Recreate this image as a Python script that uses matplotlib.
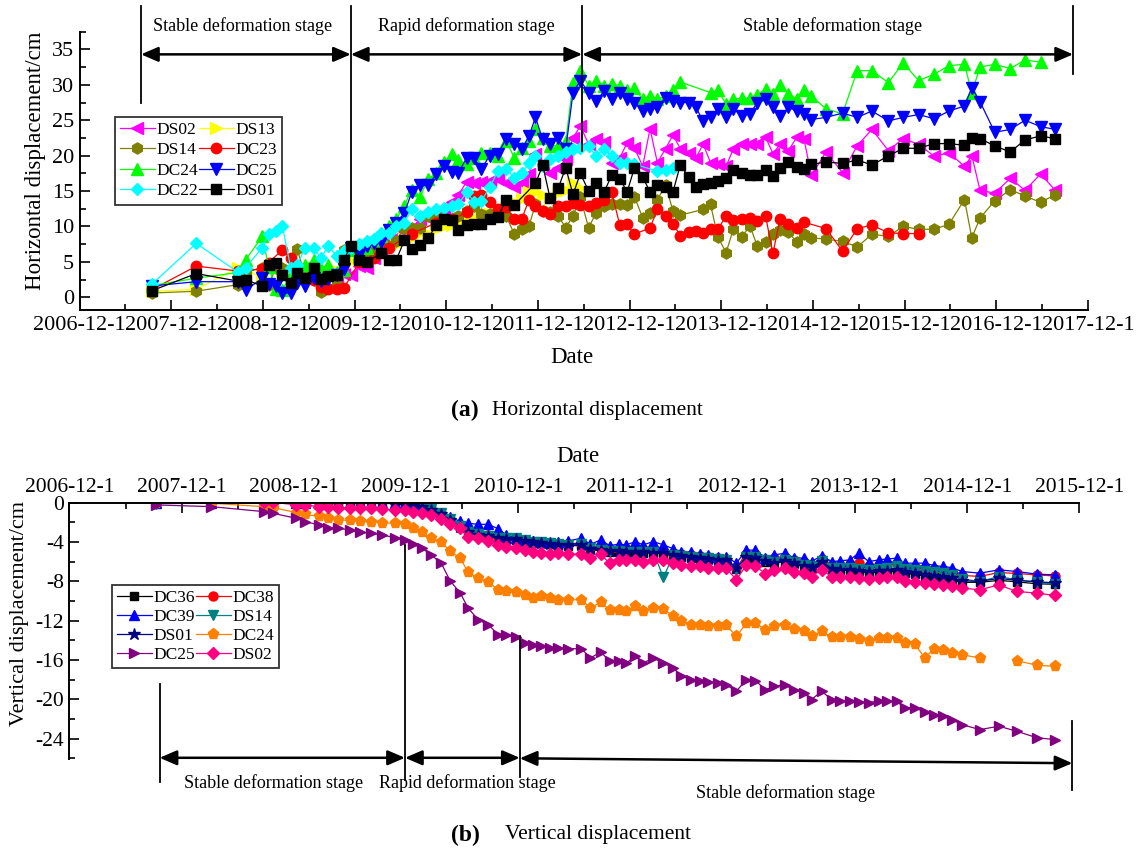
import numpy as np
import matplotlib
matplotlib.use('Agg')
import matplotlib.pyplot as plt
from matplotlib.ticker import MultipleLocator, FixedLocator

N = np.nan

# ---------------- Panel (a): horizontal displacement ----------------
A_DATES = [2007.71, 2008.19, 2008.65, 2008.73, 2008.91, 2008.98, 2009.06, 2009.13, 2009.22, 2009.29,
           2009.38, 2009.47, 2009.55, 2009.63, 2009.72, 2009.80, 2009.88, 2009.97, 2010.05, 2010.13,
           2010.21, 2010.29, 2010.37, 2010.46, 2010.54, 2010.63, 2010.72, 2010.81, 2010.89, 2010.98,
           2011.05, 2011.14, 2011.22, 2011.30, 2011.39, 2011.48, 2011.57, 2011.66, 2011.74, 2011.82,
           2011.89, 2011.97, 2012.05, 2012.14, 2012.22, 2012.30, 2012.38, 2012.47, 2012.55, 2012.64,
           2012.72, 2012.81, 2012.89, 2012.97, 2013.06, 2013.14, 2013.22, 2013.31, 2013.39, 2013.47,
           2013.56, 2013.64, 2013.72, 2013.80, 2013.88, 2013.97, 2014.05, 2014.14, 2014.23, 2014.31,
           2014.40, 2014.48, 2014.56, 2014.65, 2014.74, 2014.82, 2014.90, 2015.06, 2015.24, 2015.40,
           2015.56, 2015.74, 2015.90, 2016.07, 2016.24, 2016.40, 2016.57, 2016.65, 2016.74, 2016.90,
           2017.07, 2017.23, 2017.40, 2017.56]

A_DS02 = [N, N, N, N, N, N, N, N, N, N,
          N, N, N, N, 2.8, 3.3, 3.1, 4.4, 4.2, 5.5,
          6.5, 7.9, 8.5, 9.3, 9.8, 11.0, 11.2, 11.5, 12.0, 13.4,
          14.5, 16.3, 16.2, 16.3, 16.4, 16.7, 16.2, 15.5, 16.2, 17.4,
          20.2, 18.8, 17.6, 18.2, 19.5, 22.5, 24.2, 21.6, 22.3, 21.9,
          19.0, 19.7, 21.8, 21.1, 18.5, 23.8, 19.0, 21.0, 22.9, 21.0,
          20.4, 19.7, 21.6, 19.0, 18.8, 18.5, 21.0, 21.6, 21.6, 21.6,
          22.6, 20.3, 21.6, 20.7, 22.6, 22.3, 17.2, 20.5, 17.6, 21.4,
          23.7, 20.7, 22.4, 21.6, 19.9, 20.4, 18.5, 20.0, 15.1, 14.7,
          16.8, 15.1, 17.4, 15.1]

A_DS13 = [0.85, 1.1, 4.2, 3.6, 3.0, 4.2, 4.6, 3.9, 3.4, 4.5,
          3.8, 4.1, 3.4, 3.2, 3.7, 4.3, 5.1, 5.4, 5.9, 6.1,
          6.4, 7.1, 7.4, 8.2, 8.4, 9.1, 9.0, 9.6, 10.1, 10.2,
          10.6, 10.7, 11.1, 11.2, 11.7, 11.9, 12.6, 13.4, 13.9, 14.8,
          14.9, 14.5, 14.0, 14.7, 15.1, 16.2, 15.4, N, N, N,
          N, N, N, N, N, N, N, N, N, N,
          N, N, N, N, N, N, N, N, N, N,
          N, N, N, N, N, N, N, N, N, N,
          N, N, N, N, N, N, N, N, N, N,
          N, N, N, N]

A_DS14 = [0.6, 0.85, 1.8, 3.5, 4.2, 1.8, 4.2, 4.1, 2.1, 6.8,
          3.0, 2.5, 0.7, 1.3, 1.8, 6.7, 7.0, 7.1, 6.3, 6.5,
          6.7, 7.2, 8.0, 9.8, 9.8, 9.8, 11.5, 11.5, 11.2, 11.0,
          11.5, 12.2, 12.9, 11.7, 11.8, 11.5, 11.5, 8.9, 9.6, 10.1,
          13.1, 12.2, 12.0, 11.5, 9.8, 11.5, 14.1, 9.8, 11.9, 12.9,
          13.1, 13.1, 13.0, 14.2, 11.2, 11.9, 13.8, 15.8, 12.2, 11.6,
          N, N, 12.4, 13.1, 8.5, 6.3, 9.7, 8.5, 10.1, 7.2,
          7.8, 9.0, 9.5, 9.2, 7.8, 8.9, 8.4, 8.2, 7.9, 7.1,
          8.9, 8.6, 10.0, 9.6, 9.6, 10.3, 13.8, 8.4, 11.2, 13.6,
          15.2, 14.3, 13.4, 14.5]

A_DC23 = [1.1, 4.4, 3.7, N, 4.0, 4.9, N, 6.7, 5.5, 3.0,
          2.6, 2.5, 1.5, 1.1, 1.1, 1.3, N, 5.0, N, 5.6,
          N, 7.0, N, N, 9.0, N, N, 10.5, N, 11.0,
          N, 12.0, 14.3, 14.5, 13.4, 12.4, 12.8, 11.0, 11.0, 13.8,
          12.9, 12.2, 11.7, 12.9, 12.9, 13.3, 13.0, 12.9, 13.3, 13.7,
          14.9, 10.2, 10.3, 8.9, N, 9.8, 12.4, 11.5, 10.4, 8.7,
          9.2, 9.4, 9.1, 9.6, 9.6, 11.5, 10.9, 11.1, 11.2, 10.8,
          11.5, 6.2, 11.1, 10.4, 9.8, 10.6, N, 9.7, 6.5, 9.7,
          10.2, 9.1, 9.0, 9.0, N, N, N, N, N, N,
          N, N, N, N]

A_DC24 = [1.65, 2.7, 3.5, 5.3, 8.6, 4.3, 1.1, 1.0, 3.2, 4.1,
          4.5, 5.3, 4.0, 4.6, 3.5, 3.9, 6.7, 6.1, 7.0, 8.1,
          8.6, 10.1, 11.0, 12.9, 15.2, 14.1, 16.7, 17.5, 19.1, 20.2,
          19.4, 18.8, 19.7, 20.4, 20.4, 20.0, 22.1, 19.7, 21.1, 22.0,
          23.7, 22.5, 21.4, 21.4, 22.0, 30.3, 31.9, 29.9, 30.6, 29.9,
          30.1, 29.9, 29.2, 29.5, 28.0, 28.4, 28.0, 28.4, 29.2, 30.4,
          N, N, N, 28.9, 29.2, 27.3, 28.0, 28.1, 28.1, 28.6,
          29.4, 28.7, 30.0, 28.7, 28.0, 29.2, 28.4, 26.6, 25.9, 32.0,
          32.0, 30.3, 33.1, 30.6, 31.5, 32.7, 32.9, 28.9, 32.5, 32.9,
          32.3, 33.5, 33.2, N]

A_DC25 = [1.6, 2.2, 2.2, 1.0, 2.7, 1.9, 1.6, 0.6, 0.6, 2.0,
          1.6, 2.7, 2.3, 2.6, 3.2, 4.0, 7.0, 6.0, 7.2, 7.7,
          7.8, 9.5, 10.5, 11.9, 14.8, 15.8, 15.8, 17.4, 18.6, 17.7,
          17.6, 19.7, 19.6, 18.1, 20.0, 20.2, 22.4, 21.6, 20.9, 22.8,
          25.4, 22.3, 21.6, 22.5, 20.9, 28.9, 30.6, 28.9, 27.7, 29.1,
          28.0, 28.9, 28.0, 27.5, 26.3, 26.6, 26.8, 28.2, 27.7, 27.5,
          27.5, 26.8, 24.9, 25.4, 26.6, 25.4, 26.6, 25.6, 25.9, 27.5,
          28.0, 26.8, 25.6, 26.8, 26.3, 25.9, 25.1, 25.4, 26.0, 25.4,
          26.3, 24.9, 25.4, 25.8, 25.2, 26.3, 27.0, 29.6, 27.6, 23.3,
          23.7, 25.0, 24.1, 23.7]

A_DC22 = [1.9, 7.6, 3.5, 4.2, 7.0, 9.0, 9.3, 10.0, 4.2, 4.6,
          7.0, 7.0, 5.5, 7.3, 5.8, 6.5, 7.0, 7.5, 7.9, 8.2,
          9.1, 9.1, 10.0, 10.5, 12.4, 11.5, 12.0, 12.5, 12.6, 12.9,
          13.2, 14.8, 13.5, 13.6, 15.5, 17.8, 18.1, 16.9, 17.5, 19.0,
          19.9, 18.5, 19.5, 20.0, 20.5, 21.0, 21.1, 21.4, 19.9, 21.0,
          20.0, 19.0, 19.0, 18.8, N, N, 17.8, 18.0, 18.3, N,
          N, N, N, N, N, N, N, N, N, N,
          N, N, N, N, N, N, N, N, N, N,
          N, N, N, N, N, N, N, N, N, N,
          N, N, N, N]

A_DS01 = [0.95, 3.35, 2.27, 2.5, 1.56, 4.53, 4.86, 3.12, 2.03, 3.45,
          2.74, 4.15, 2.6, 3.07, 3.12, 5.33, 7.3, 5.33, 4.95, N,
          6.27, 5.33, 5.24, 8.02, 6.75, 7.45, 8.4, 10.19, 11.08, 10.89,
          9.48, 10.14, 10.38, 10.38, 10.99, 11.37, 13.72, 13.02, N, N,
          16.08, 18.63, 13.96, 15.47, 18.3, 14.52, 17.49, 14.99, 16.09, 14.86,
          17.22, 16.75, 14.86, 18.3, 16.98, 14.86, 15.85, 15.57, 14.86, 18.68,
          17.03, 15.62, 15.95, 16.18, 16.42, 16.89, 17.97, 17.6, 17.22, 17.22,
          17.97, 17.13, 18.21, 19.1, 18.44, 18.07, 18.77, 19.1, 18.9, 19.39,
          18.68, 19.95, 21.04, 21.04, 21.7, 21.7, 21.46, 22.55, 22.4, 21.37,
          20.52, 22.22, 22.78, 22.4]

A_XLABELS = ['2006-12-1', '2007-12-1', '2008-12-1', '2009-12-1', '2010-12-1', '2011-12-1',
             '2012-12-1', '2013-12-1', '2014-12-1', '2015-12-1', '2016-12-1', '2017-12-1']
A_YTICKS = [0, 5, 10, 15, 20, 25, 30, 35]

# ---------------- Panel (b): vertical displacement ----------------
B_DATES = [2007.69, 2008.18, 2008.65, 2008.73, 2008.94, 2009.02, 2009.14, 2009.22, 2009.31, 2009.42,
           2009.51, 2009.60, 2009.70, 2009.82, 2009.91, 2009.98, 2010.06, 2010.14, 2010.23, 2010.31,
           2010.40, 2010.47, 2010.56, 2010.65, 2010.74, 2010.81, 2010.90, 2010.98, 2011.05, 2011.12,
           2011.20, 2011.27, 2011.36, 2011.48, 2011.56, 2011.65, 2011.73, 2011.81, 2011.88, 2011.96,
           2012.03, 2012.12, 2012.21, 2012.30, 2012.37, 2012.46, 2012.54, 2012.61, 2012.70, 2012.77,
           2012.86, 2012.95, 2013.03, 2013.12, 2013.20, 2013.29, 2013.37, 2013.46, 2013.53, 2013.62,
           2013.71, 2013.78, 2013.87, 2013.95, 2014.04, 2014.13, 2014.20, 2014.29, 2014.36, 2014.45,
           2014.54, 2014.62, 2014.70, 2014.78, 2014.87, 2015.03, 2015.20, 2015.36, 2015.54, 2015.70]

B_DC36 = [-0.05, -0.05, 0, 0, 0, 0, 0, 0, 0, 0,
          0, -0.05, -0.05, -0.1, -0.2, -0.3, -0.5, -0.75, -1.2, -1.8,
          -2.5, -3.0, -3.3, -3.45, -3.6, -3.7, -3.75, -3.9, -4.05, -4.15,
          -4.25, -4.35, -4.4, -4.35, -4.75, -4.9, -5.0, -5.0, -5.05, -5.05,
          -5.1, -5.15, -5.2, -5.4, -5.5, -5.6, -5.7, -5.75, -5.85, -5.9,
          -6.7, -5.6, -5.65, -6.0, -6.15, -6.0, -6.15, -6.45, -6.6, -6.05,
          -6.75, -6.85, -6.9, -6.95, -7.15, -7.05, -7.0, -7.0, -7.2, -7.3,
          -7.45, -7.6, -7.75, -7.85, -8.1, -8.1, -7.9, -8.05, -8.25, -8.3]

B_DC38 = [-0.05, 0, 0, 0, 0, 0, 0, 0.05, 0.1, 0.15,
          0.15, 0.2, 0.15, 0.1, 0.0, -0.15, -0.35, -0.6, -1.1, -1.8,
          -2.5, -2.9, -3.1, -3.3, -3.5, -3.6, -3.7, -3.85, -4.0, -4.05,
          -4.1, -4.2, -4.2, -4.1, -4.55, -4.4, -4.75, -4.7, -4.75, -4.6,
          -4.75, -4.6, -4.8, -5.1, -5.25, -5.35, -5.45, -5.55, -5.65, -5.7,
          -6.6, -5.2, -5.25, -5.75, -5.6, -5.5, -5.85, -6.0, -6.3, -5.7,
          -6.35, -6.3, -6.25, -6.15, -6.45, -6.3, -6.2, -6.1, -6.5, -6.55,
          -6.65, -6.75, -6.85, -7.0, -7.4, -7.5, -7.1, -7.2, -7.35, -7.45]

B_DC39 = [-0.05, 0, 0, 0, 0, 0, 0, 0, 0, 0,
          0, 0, 0, -0.05, -0.15, -0.25, -0.35, -0.55, -1.08, -1.5,
          -1.9, -2.1, -2.2, -2.2, -2.67, -3.28, -3.55, -3.75, -3.89, -3.96,
          -3.96, -3.96, -3.89, -3.62, -4.23, -3.79, -4.36, -4.23, -4.29, -3.96,
          -4.29, -3.96, -4.29, -4.7, -4.97, -5.04, -5.24, -5.31, -5.48, -5.48,
          -6.15, -4.8, -4.85, -5.58, -5.31, -5.14, -5.58, -5.65, -5.99, -5.38,
          -5.99, -5.92, -5.82, -5.14, -5.99, -5.82, -5.72, -5.65, -6.15, -6.15,
          -6.15, -6.39, -6.49, -6.6, -7.0, -7.17, -6.83, -7.0, -7.27, -7.34]

B_DS14 = [-0.1, -0.05, -0.05, -0.05, -0.05, -0.05, -0.05, -0.05, -0.05, -0.05,
          -0.05, -0.05, -0.05, -0.1, -0.15, -0.25, -0.4, -0.6, -1.0, -1.7,
          -2.4, -2.94, -3.21, -3.35, -3.55, -3.62, -3.62, -3.79, -3.96, -4.02,
          -4.12, -4.23, -4.29, -4.23, -4.63, -4.8, -4.9, -4.9, -4.97, -4.97,
          -4.97, -5.0, -7.6, -5.31, -5.38, -5.48, -5.58, -5.65, -5.72, -5.82,
          -6.83, -5.48, -5.48, -5.82, -5.99, -5.82, -5.99, -6.32, -6.49, -5.92,
          -6.6, -6.66, -6.66, -6.73, -6.83, -6.73, -6.6, -6.49, -6.73, -6.83,
          -6.93, -7.0, -7.17, -7.34, -7.75, -8.02, -7.51, -7.85, -8.08, -8.29]

B_DS01 = [-0.05, -0.05, 0, 0, 0, 0, 0, 0, 0, 0,
          0, 0, -0.05, -0.1, -0.2, -0.3, -0.45, -0.7, -1.15, -1.75,
          -2.45, -2.95, -3.25, -3.4, -3.55, -3.65, -3.7, -3.85, -4.0, -4.1,
          -4.2, -4.3, -4.35, -4.3, -4.7, -4.85, -4.95, -4.95, -5.0, -5.0,
          -5.05, -5.1, -5.15, -5.35, -5.45, -5.55, -5.65, -5.7, -5.8, -5.85,
          -6.6, -5.55, -5.6, -5.95, -6.1, -5.95, -6.1, -6.4, -6.55, -6.0,
          -6.7, -6.8, -6.85, -6.9, -7.05, -6.95, -6.9, -6.85, -7.1, -7.2,
          -7.35, -7.5, -7.6, -7.7, -7.95, -8.0, -7.7, -7.9, -8.05, -8.15]

B_DC24 = [-0.06, -0.06, -0.4, -0.5, -1.0, -1.2, -1.4, -1.6, -1.76, -1.8,
          -1.9, -1.95, -2.05, -2.09, -2.2, -2.6, -3.0, -3.62, -4.02, -4.9,
          -5.65, -7.07, -7.68, -8.08, -8.86, -9.03, -9.1, -9.44, -9.71, -9.54,
          -9.71, -9.88, -9.88, -9.88, -10.72, -10.12, -10.89, -10.89, -11.06, -10.55,
          -10.99, -10.72, -10.79, -11.57, -12.01, -12.42, -12.42, -12.59, -12.59, -12.42,
          -13.6, -12.25, -12.25, -12.92, -12.59, -12.42, -12.82, -13.09, -13.6, -13.03,
          -13.7, -13.7, -13.7, -13.84, -14.04, -13.77, -13.77, -13.77, -14.28, -14.38,
          -15.8, -14.85, -14.95, -15.29, -15.46, -15.8, N, -16.07, -16.54, -16.65]

B_DC25 = [-0.23, -0.4, -0.91, -1.08, -1.59, -1.92, -2.26, -2.53, -2.6, -2.77,
          -3.0, -3.11, -3.28, -3.55, -3.79, -4.23, -4.63, -5.31, -6.15, -7.95,
          -9.2, -10.72, -11.91, -12.42, -13.43, -13.43, -13.7, -14.28, -14.51, -14.62,
          -14.79, -14.79, -14.85, -14.85, -15.8, -15.19, -16.07, -16.14, -16.31, -15.63,
          -16.31, -15.8, -16.31, -16.82, -17.66, -18.0, -18.17, -18.24, -18.34, -18.51,
          -19.18, -18.0, -18.1, -19.02, -18.68, -18.51, -19.02, -19.35, -20.03, -19.18,
          -20.03, -20.13, -20.13, -20.27, -20.37, -20.13, -20.2, -20.2, -20.88, -20.88,
          -21.28, -21.62, -21.72, -22.06, -22.57, -23.08, -22.74, -23.25, -23.92, -24.09]

B_DS02 = [N, N, 0.04, 0.04, -0.23, -0.23, -0.4, -0.4, -0.5, -0.57,
          -0.57, -0.57, -0.64, -0.74, -0.74, -0.91, -1.08, -1.25, -1.65, -2.2,
          -2.6, -3.45, -3.62, -3.89, -4.29, -4.46, -4.63, -4.8, -4.97, -5.14,
          -5.24, -5.14, -5.24, -5.24, -5.65, -5.24, -6.15, -5.82, -5.82, -5.82,
          -5.99, -5.82, -5.82, -6.15, -6.32, -6.49, -6.49, -6.66, -6.66, -6.66,
          -7.85, -6.32, -6.39, -7.27, -6.83, -6.6, -7.0, -7.17, -7.51, -6.83,
          -7.51, -7.61, -7.51, -7.68, -7.75, -7.68, -7.61, -7.61, -7.95, -8.08,
          -8.19, -8.29, -8.36, -8.52, -8.69, -8.86, -8.36, -9.03, -9.2, -9.44]

B_XLABELS = ['2006-12-1', '2007-12-1', '2008-12-1', '2009-12-1', '2010-12-1',
             '2011-12-1', '2012-12-1', '2013-12-1', '2014-12-1', '2015-12-1']
B_YTICKS = [0, -4, -8, -12, -16, -20, -24]

STAGES = ['Stable deformation stage', 'Rapid deformation stage', 'Stable deformation stage']

# ---------------- styling ----------------
plt.rcParams['font.family'] = ['Liberation Serif', 'DejaVu Serif']
plt.rcParams['axes.unicode_minus'] = False

fig = plt.figure(figsize=(11.48, 8.59), dpi=100)
axa = fig.add_axes([0.0693, 0.6391, 0.8784, 0.3240])
axb = fig.add_axes([0.0605, 0.1161, 0.8797, 0.2987])

X0 = 2006.917

series_a = [
    ('DS02', A_DS02, '#FF00FF', '<', 8.5),
    ('DS13', A_DS13, '#FFFF00', '>', 8.5),
    ('DS14', A_DS14, '#808000', 'h', 8.0),
    ('DC23', A_DC23, '#FF0000', 'o', 7.5),
    ('DC24', A_DC24, '#00FF00', '^', 8.5),
    ('DC25', A_DC25, '#0000FF', 'v', 8.5),
    ('DC22', A_DC22, '#00FFFF', 'D', 6.5),
    ('DS01', A_DS01, '#000000', 's', 7.0),
]
ha = {}
xa = np.array(A_DATES)
for name, vals, col, mk, ms in series_a:
    y = np.array(vals, dtype=float)
    m = ~np.isnan(y)
    h, = axa.plot(xa[m], y[m], color=col, lw=0.9, marker=mk, ms=ms, mfc=col, mec=col, label=name)
    ha[name] = h

axa.set_xlim(X0, X0 + 11)
axa.set_ylim(-1.8, 37.5)
axa.xaxis.set_major_locator(FixedLocator([X0 + k for k in range(len(A_XLABELS))]))
axa.set_xticklabels(A_XLABELS)
axa.xaxis.set_minor_locator(FixedLocator([X0 + k + 0.5 for k in range(len(A_XLABELS) - 1)]))
axa.set_yticks(A_YTICKS)
axa.yaxis.set_minor_locator(MultipleLocator(2.5))
axa.tick_params(which='major', direction='in', length=7, width=1.2, labelsize=16, pad=4)
axa.tick_params(which='minor', direction='in', length=4, width=1.2)
for s in ['top', 'right']:
    axa.spines[s].set_visible(False)
for s in ['left', 'bottom']:
    axa.spines[s].set_linewidth(1.4)

order_a = ['DS02', 'DS14', 'DC24', 'DC22', 'DS13', 'DC23', 'DC25', 'DS01']
leg = axa.legend([ha[k] for k in order_a], order_a, ncol=2, loc='upper left',
                 bbox_to_anchor=(0.035, 0.695), fontsize=12.5, frameon=True, fancybox=False,
                 edgecolor='#333333', framealpha=1, handlelength=2.0, handletextpad=0.1,
                 columnspacing=0.05, labelspacing=0.25, borderpad=0.3, borderaxespad=0)
leg.get_frame().set_linewidth(1.3)

# stage annotations (a)
def vline(ax, x, y0, y1):
    ax.plot([x, x], [y0, y1], color='k', lw=1.3, clip_on=False, zorder=5)

def darrow(ax, x0, y0, x1, y1):
    ax.annotate('', xy=(x1, y1), xytext=(x0, y0), annotation_clip=False,
                arrowprops=dict(arrowstyle='<|-|>,head_length=0.65,head_width=0.28',
                                color='k', lw=1.8, shrinkA=0, shrinkB=0, mutation_scale=16))

va_lines = [(2007.587, 27.5), (2009.876, 7.2), (2012.40, 20.6), (2017.755, 31.5)]
for xv, ylow in va_lines:
    vline(axa, xv, ylow, 41.1)
for i in range(3):
    darrow(axa, va_lines[i][0], 34.3, va_lines[i + 1][0], 34.3)
for txt, xc in zip(STAGES, [2008.70, 2011.14, 2015.13]):
    axa.text(xc, 38.3, txt, ha='center', va='center', fontsize=13, clip_on=False)

# ---------------- panel (b) ----------------
series_b = [
    ('DC36', B_DC36, '#000000', 's', 6.0),
    ('DC38', B_DC38, '#FF0000', 'o', 6.5),
    ('DC39', B_DC39, '#0000FF', '^', 7.5),
    ('DS14', B_DS14, '#008080', 'v', 7.5),
    ('DS01', B_DS01, '#000080', '*', 9.0),
    ('DC24', B_DC24, '#FF8000', 'p', 8.0),
    ('DC25', B_DC25, '#800080', '>', 7.5),
    ('DS02', B_DS02, '#FF0080', 'D', 6.0),
]
hb = {}
xb = np.array(B_DATES)
for name, vals, col, mk, ms in series_b:
    y = np.array(vals, dtype=float)
    h, = axb.plot(xb, y, color=col, lw=0.9, marker=mk, ms=ms, mfc=col, mec=col, label=name)
    hb[name] = h

axb.set_xlim(X0, X0 + 9)
axb.set_ylim(-26.1, 0)
axb.xaxis.tick_top()
axb.xaxis.set_label_position('top')
axb.xaxis.set_major_locator(FixedLocator([X0 + k for k in range(len(B_XLABELS))]))
axb.set_xticklabels(B_XLABELS)
axb.xaxis.set_minor_locator(FixedLocator([X0 + k + 0.5 for k in range(len(B_XLABELS) - 1)]))
axb.set_yticks(B_YTICKS)
axb.yaxis.set_minor_locator(MultipleLocator(2))
axb.tick_params(which='major', direction='in', length=7, width=1.2, labelsize=15.5, pad=4)
axb.tick_params(which='minor', direction='in', length=4, width=1.2)
for s in ['bottom', 'right']:
    axb.spines[s].set_visible(False)
for s in ['left', 'top']:
    axb.spines[s].set_linewidth(1.4)

order_b = ['DC36', 'DC39', 'DS01', 'DC25', 'DC38', 'DS14', 'DC24', 'DS02']
legb = axb.legend([hb[k] for k in order_b], order_b, ncol=2, loc='upper left',
                  bbox_to_anchor=(0.042, 0.679), fontsize=12.5, frameon=True, fancybox=False,
                  edgecolor='#333333', framealpha=1, handlelength=2.0, handletextpad=0.1,
                  columnspacing=0.05, labelspacing=0.15, borderpad=0.3, borderaxespad=0)
legb.get_frame().set_linewidth(1.3)

vb_lines = [(2007.72, -18.4, -28.4), (2009.907, -4.3, -28.2), (2010.93, -13.6, -27.9), (2015.855, -22.2, -29.2)]
for xv, ytop, ybot in vb_lines:
    vline(axb, xv, ybot, ytop)
darrow(axb, vb_lines[0][0], -25.95, vb_lines[1][0], -25.95)
darrow(axb, vb_lines[1][0], -25.95, vb_lines[2][0], -25.95)
darrow(axb, vb_lines[2][0], -26.0, vb_lines[3][0], -26.5)
for txt, xc, yc in zip(STAGES, [2008.736, 2010.46, 2013.30], [-28.5, -28.5, -29.5]):
    axb.text(xc, yc, txt, ha='center', va='center', fontsize=13, clip_on=False)

# ---------------- figure texts ----------------
W, H = 1148.0, 859.0
fig.text(35.5 / W, 1 - 161 / H, 'Horizontal displacement/cm', rotation=90, ha='center', va='center', fontsize=16.5)
fig.text(20 / W, 1 - 614 / H, 'Vertical displacement/cm', rotation=90, ha='center', va='center', fontsize=16)
fig.text(572 / W, 1 - 357 / H, 'Date', ha='center', va='center', fontsize=16.5)
fig.text(578 / W, 1 - 456.7 / H, 'Date', ha='center', va='center', fontsize=16.5)
fig.text(451 / W, 1 - 410 / H, '(a)', ha='left', va='center', fontsize=17, fontweight='bold')
fig.text(492 / W, 1 - 410 / H, 'Horizontal displacement', ha='left', va='center', fontsize=15.5)
fig.text(451 / W, 1 - 835 / H, '(b)', ha='left', va='center', fontsize=17, fontweight='bold')
fig.text(505 / W, 1 - 835 / H, 'Vertical displacement', ha='left', va='center', fontsize=15.5)

fig.savefig('out.png', dpi=100)
